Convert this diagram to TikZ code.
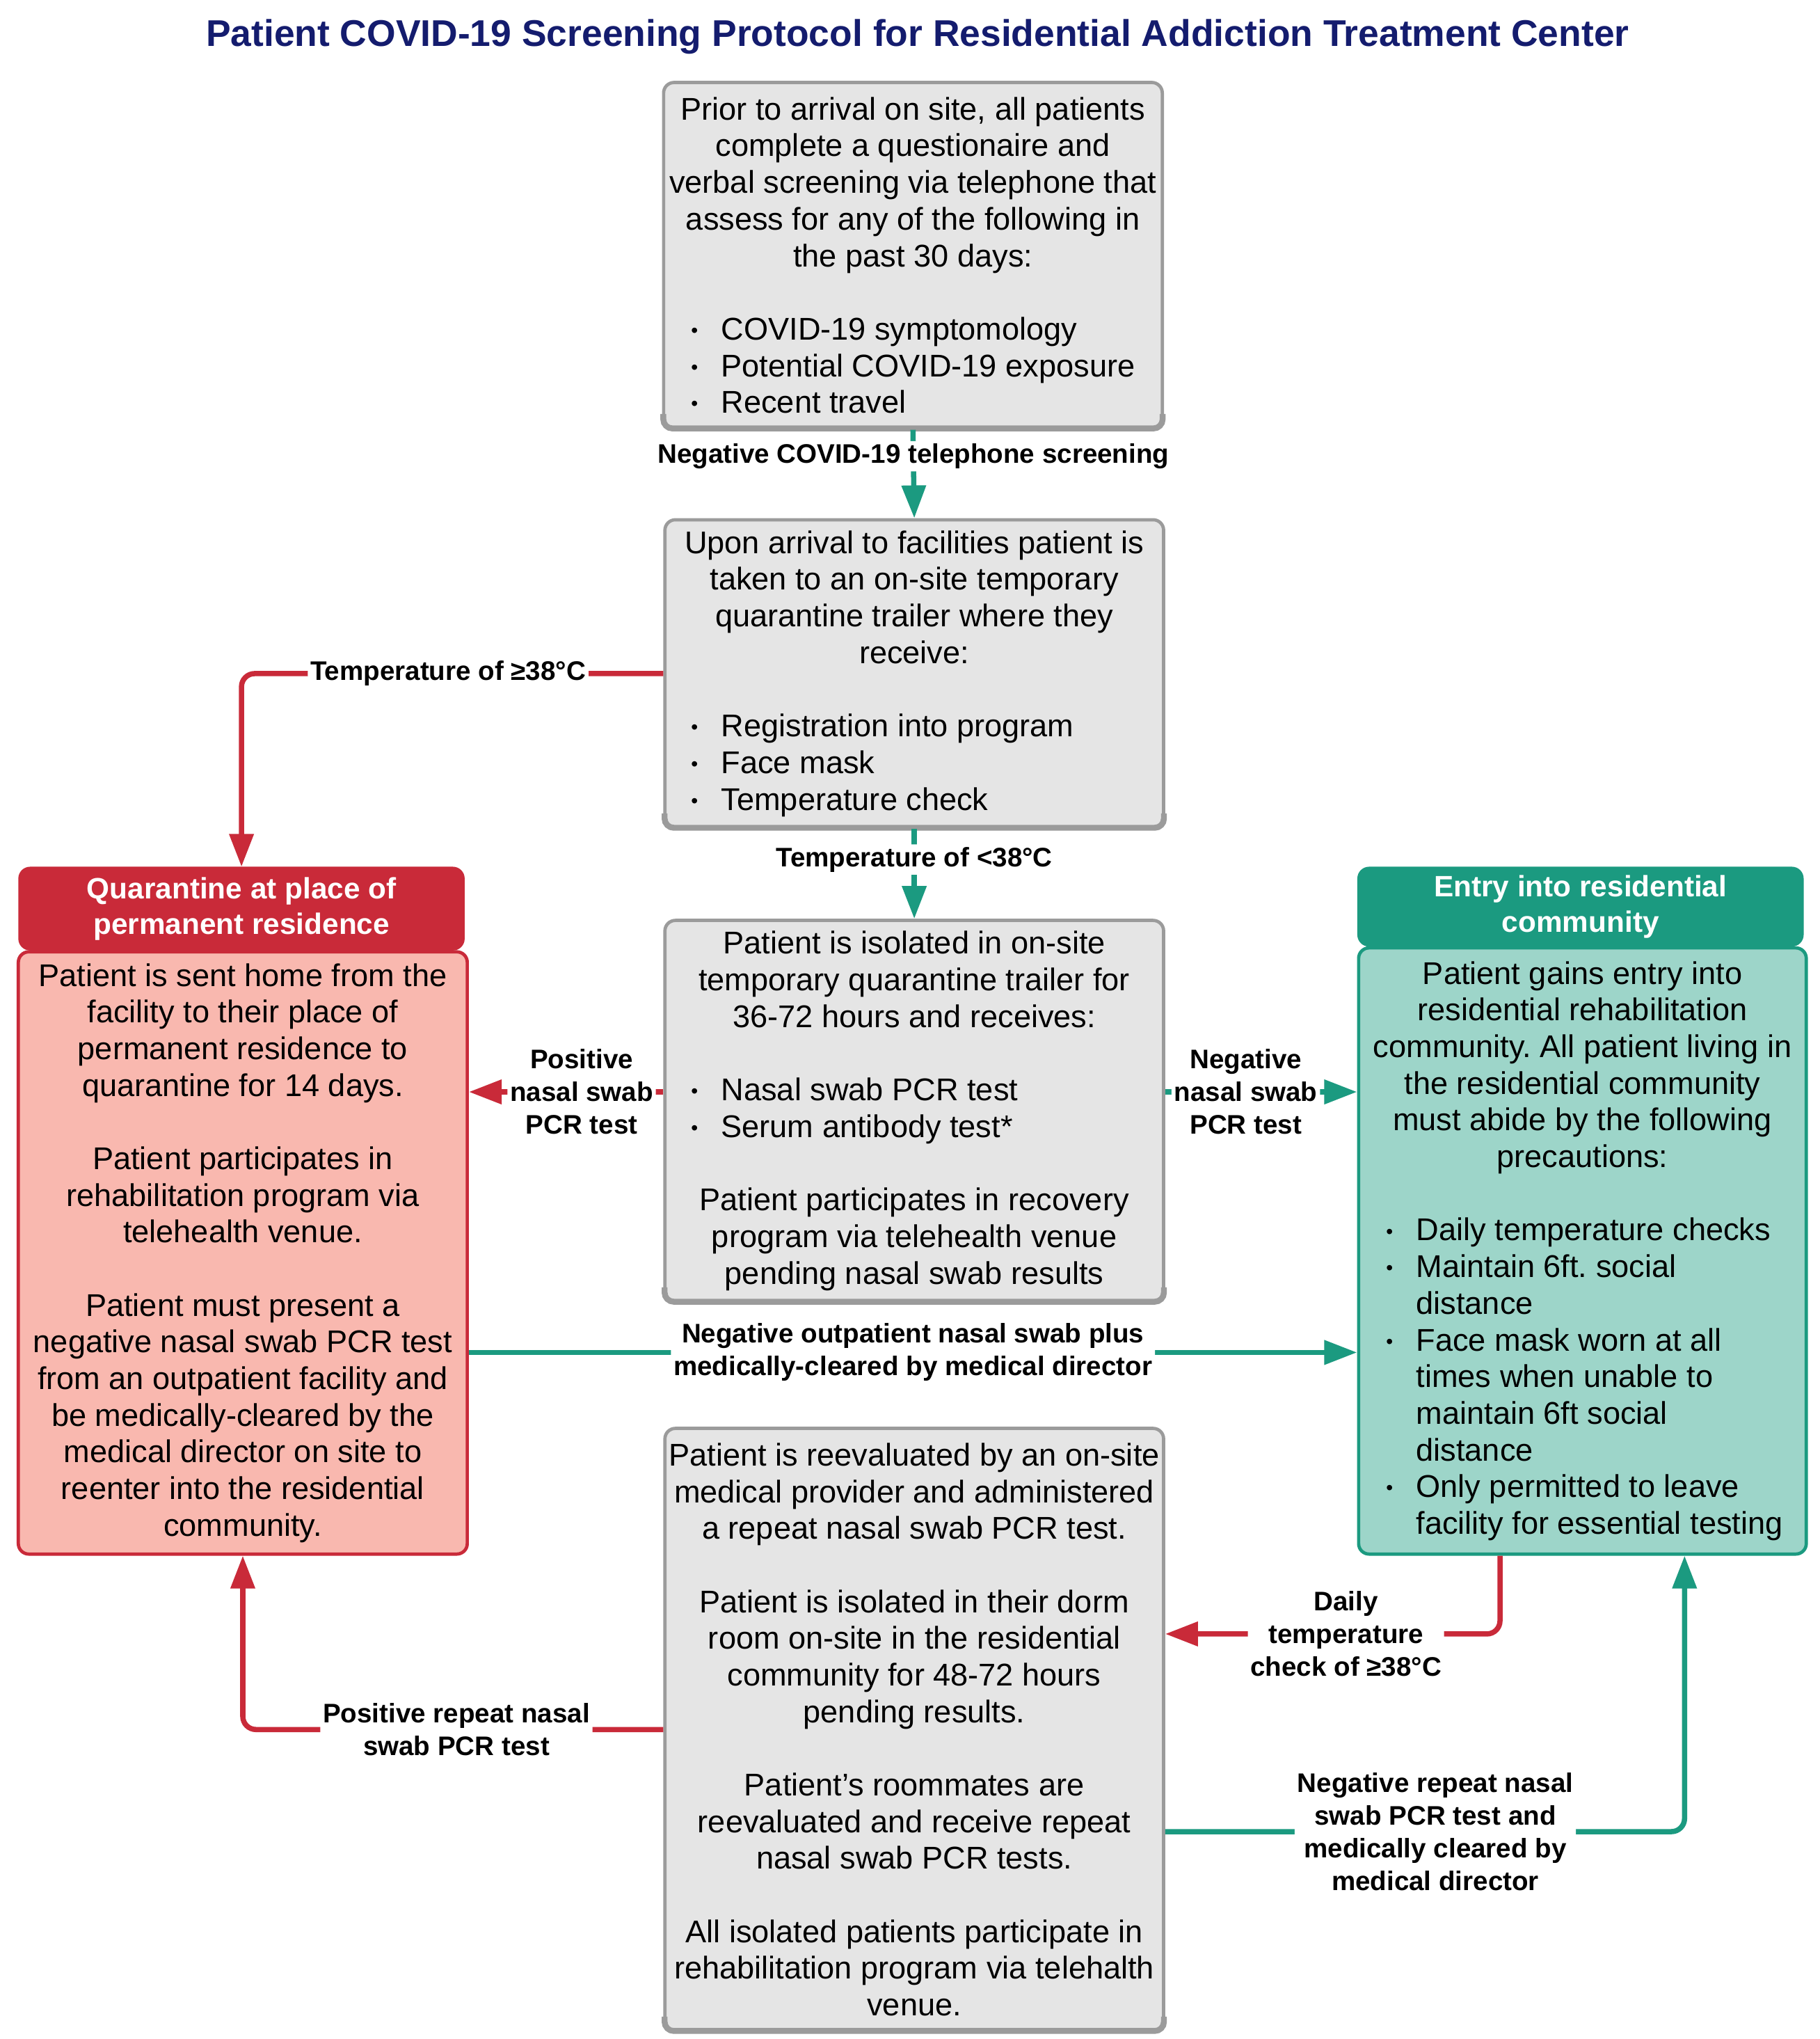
\documentclass[tikz,border=0pt]{standalone}
\usepackage{fontspec}
\setmainfont{Liberation Sans}
\usetikzlibrary{arrows.meta,calc}
\definecolor{navy}{HTML}{141C6E}
\definecolor{cred}{HTML}{C92A39}
\definecolor{cpink}{HTML}{F9B8AF}
\definecolor{cteal}{HTML}{1B9A80}
\definecolor{clteal}{HTML}{9DD5C9}
\definecolor{cgray}{HTML}{E5E5E5}
\definecolor{cborder}{HTML}{9B9B9B}
\newcommand{\bitem}[2]{\makebox[#1][l]{\makebox[23pt][l]{\fontsize{15}{15}\selectfont\raisebox{2pt}{•}}#2}}
\newcommand{\bcont}[2]{\makebox[#1][l]{\hspace{23pt}#2}}
\frenchspacing
\begin{document}
\begin{tikzpicture}[x=1pt,y=-1pt,
  box/.style={draw=cborder, fill=cgray, line width=2.5pt, rounded corners=8pt, inner sep=0pt, align=center, font=\fontsize{24}{28}\selectfont\frenchspacing},
  qhead/.style={draw=cred, fill=cred, line width=2pt, rounded corners=8pt, inner sep=0pt, align=center, text=white, font=\bfseries\fontsize{22.5}{27}\selectfont},
  qbody/.style={draw=cred, fill=cpink, line width=2.5pt, rounded corners=8pt, inner sep=0pt, align=center, font=\fontsize{24}{28}\selectfont\frenchspacing},
  ehead/.style={draw=cteal, fill=cteal, line width=2pt, rounded corners=8pt, inner sep=0pt, align=center, text=white, font=\bfseries\fontsize{22.5}{27}\selectfont},
  ebody/.style={draw=cteal, fill=clteal, line width=2.5pt, rounded corners=8pt, inner sep=0pt, align=center, font=\fontsize{24}{28}\selectfont\frenchspacing},
  shade/.style={draw=cborder, line width=4.5pt, rounded corners=7pt},
  arrR/.style={draw=cred, line width=4pt, -{Triangle[length=25pt,width=18pt]}, rounded corners=10pt},
  arrT/.style={draw=cteal, line width=4pt, -{Triangle[length=25pt,width=18pt]}, rounded corners=10pt},
  lbl/.style={fill=white, inner sep=2pt, align=center, text=black, font=\bfseries\fontsize{20.5}{25}\selectfont}
]
\useasboundingbox[fill=white] (0,0) rectangle (1390,1557.4);

\node[text=navy, font=\bfseries\fontsize{28.4}{32}\selectfont] (title) at (701,28)
  {Patient COVID-19 Screening Protocol for Residential Addiction Treatment Center};

\node[box, minimum width=381pt, minimum height=264pt] (b1) at (697.5,195)
  {Prior to arrival on site, all patients\\ complete a questionaire and\\ verbal screening via telephone that\\ assess for any of the following in\\ the past 30 days:\\[28pt]
   \bitem{339pt}{COVID-19 symptomology}\\ \bitem{339pt}{Potential COVID-19 exposure}\\ \bitem{339pt}{Recent travel}};

\node[box, minimum width=381pt, minimum height=235pt] (b2) at (698.5,514.5)
  {Upon arrival to facilities patient is\\ taken to an on-site temporary\\ quarantine trailer where they\\ receive:\\[28pt]
   \bitem{341pt}{Registration into program}\\ \bitem{341pt}{Face mask}\\ \bitem{341pt}{Temperature check}};

\node[box, minimum width=381pt, minimum height=291pt] (b3) at (698.5,848.5)
  {Patient is isolated in on-site\\ temporary quarantine trailer for\\ 36-72 hours and receives:\\[28pt]
   \bitem{341pt}{Nasal swab PCR test}\\ \bitem{341pt}{Serum antibody test*}\\[28pt]
   Patient participates in recovery\\ program via telehealth venue\\ pending nasal swab results};

\node[box, minimum width=381pt, minimum height=460pt] (b4) at (698.5,1321)
  {Patient is reevaluated by an on-site\\ medical provider and administered\\ a repeat nasal swab PCR test.\\[28pt]
   Patient is isolated in their dorm\\ room on-site in the residential\\ community for 48-72 hours\\ pending results.\\[28pt]
   Patient's roommates are\\ reevaluated and receive repeat\\ nasal swab PCR tests.\\[28pt]
   All isolated patients participate in\\ rehabilitation program via telehalth\\ venue.};

% thicker bottom edges of the grey boxes
\foreach \b in {b1,b2,b3,b4}{
  \draw[shade] ($(\b.south west)+(1,-12)$) -- ($(\b.south west)+(1,-1)$) -- ($(\b.south east)+(-1,-1)$) -- ($(\b.south east)+(-1,-12)$);
}

\node[qhead, minimum width=339pt, minimum height=62pt] (qh) at (184.5,694)
  {Quarantine at place of\\ permanent residence};
\node[qbody, minimum width=343pt, minimum height=460pt] (qb) at (185.5,957)
  {Patient is sent home from the\\ facility to their place of\\ permanent residence to\\ quarantine for 14 days.\\[28pt]
   Patient participates in\\ rehabilitation program via\\ telehealth venue.\\[28pt]
   Patient must present a\\ negative nasal swab PCR test\\ from an outpatient facility and\\ be medically-cleared by the\\ medical director on site to\\ reenter into the residential\\ community.};

\node[ehead, minimum width=339pt, minimum height=59pt] (eh) at (1207.5,692.5)
  {Entry into residential\\ community};
\node[ebody, minimum width=342pt, minimum height=463pt] (eb) at (1209,955.5)
  {Patient gains entry into\\ residential rehabilitation\\ community. All patient living in\\ the residential community\\ must abide by the following\\ precautions:\\[28pt]
   \bitem{300pt}{Daily temperature checks}\\ \bitem{300pt}{Maintain 6ft. social}\\ \bcont{300pt}{distance}\\
   \bitem{300pt}{Face mask worn at all}\\ \bcont{300pt}{times when unable to}\\ \bcont{300pt}{maintain 6ft social}\\ \bcont{300pt}{distance}\\
   \bitem{300pt}{Only permitted to leave}\\ \bcont{300pt}{facility for essential testing}};

% connectors
\draw[arrT] (b1.south) -- node[lbl, pos=0.3] (l1) {Negative COVID-19 telephone screening} (b2.north);
\draw[arrR] (b2.west) -| node[lbl, pos=0.255] (l2) {Temperature of ≥38°C} (qh.north);
\draw[arrT] (b2.south) -- node[lbl, pos=0.34] (l3) {Temperature of <38°C} (b3.north);

\coordinate (p1) at ($(b3.west)+(0,-14.5)$);
\draw[arrR] (p1) -- node[lbl, pos=0.42] (l4) {Positive\\nasal swab\\PCR test} (p1 -| qb.east);
\coordinate (p2) at ($(b3.east)+(0,-14.5)$);
\draw[arrT] (p2) -- node[lbl, pos=0.42] (l5) {Negative\\nasal swab\\PCR test} (p2 -| eb.west);

\coordinate (p3) at ($(qb.east)+(0,76)$);
\draw[arrT] (p3) -- node[lbl] (l6) {Negative outpatient nasal swab plus\\medically-cleared by medical director} (p3 -| eb.west);

\coordinate (p4) at ($(eb.south)+(-63,0)$);
\coordinate (p5) at ($(b4.east)+(0,-73)$);
\draw[arrR] (p4) |- node[lbl, pos=0.73] (l7) {Daily\\temperature\\check of ≥38°C} (p5);

\draw[arrR] (b4.west) -| node[lbl, pos=0.246] (l8) {Positive repeat nasal\\swab PCR test} (qb.south);

\coordinate (p6) at ($(b4.east)+(0,78)$);
\coordinate (p7) at ($(eb.south)+(78,0)$);
\draw[arrT] (p6) -| node[lbl, pos=0.26] (l9) {Negative repeat nasal\\swab PCR test and\\medically cleared by\\medical director} (p7);
\end{tikzpicture}
\end{document}
